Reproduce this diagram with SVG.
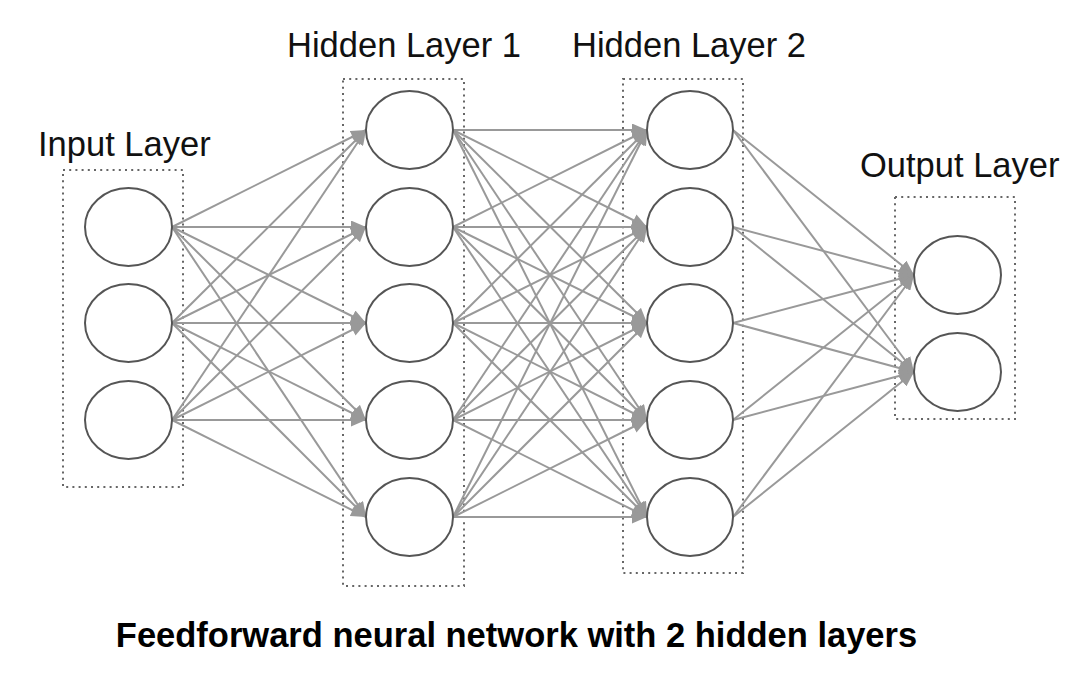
<svg xmlns="http://www.w3.org/2000/svg" width="1084" height="686" viewBox="0 0 1084 686">
<style>
.lbl{font-family:"Liberation Sans",Arial,sans-serif;font-size:34.5px;fill:#111}
.title{font-family:"Liberation Sans",Arial,sans-serif;font-size:34.5px;font-weight:bold;fill:#000}
.box{fill:none;stroke:#666;stroke-width:2;stroke-dasharray:2 4.2}
.n{fill:#fff;stroke:#555;stroke-width:2}
.c line{stroke:#999;stroke-width:2;marker-end:url(#ah)}
</style>
<defs>
<marker id="ah" markerUnits="userSpaceOnUse" markerWidth="15" markerHeight="13" refX="15" refY="6.5" orient="auto">
<path d="M0,0 L15,6.5 L0,13 z" fill="#999"/>
</marker>
</defs>
<rect width="1084" height="686" fill="#fff"/>
<g id="boxes">
<rect class="box" x="63" y="170" width="120" height="317"/>
<rect class="box" x="343" y="79" width="121" height="507"/>
<rect class="box" x="623" y="79" width="120" height="494"/>
<rect class="box" x="895" y="197" width="120" height="222"/>
</g>
<g id="labels">
<text class="lbl" x="38" y="156">Input Layer</text>
<text class="lbl" x="287" y="57">Hidden Layer 1</text>
<text class="lbl" x="572" y="57">Hidden Layer 2</text>
<text class="lbl" x="860" y="177">Output Layer</text>
<text class="title" x="516.5" y="646.5" text-anchor="middle">Feedforward neural network with 2 hidden layers</text>
</g>
<g class="c" id="connectors">
<line x1="172" y1="227" x2="366" y2="130"/><line x1="172" y1="227" x2="366" y2="227"/><line x1="172" y1="227" x2="366" y2="323"/><line x1="172" y1="227" x2="366" y2="420"/><line x1="172" y1="227" x2="366" y2="517"/>
<line x1="172" y1="323" x2="366" y2="130"/><line x1="172" y1="323" x2="366" y2="227"/><line x1="172" y1="323" x2="366" y2="323"/><line x1="172" y1="323" x2="366" y2="420"/><line x1="172" y1="323" x2="366" y2="517"/>
<line x1="172" y1="420" x2="366" y2="130"/><line x1="172" y1="420" x2="366" y2="227"/><line x1="172" y1="420" x2="366" y2="323"/><line x1="172" y1="420" x2="366" y2="420"/><line x1="172" y1="420" x2="366" y2="517"/>
<line x1="453" y1="130" x2="647" y2="130"/><line x1="453" y1="130" x2="647" y2="227"/><line x1="453" y1="130" x2="647" y2="323"/><line x1="453" y1="130" x2="647" y2="420"/><line x1="453" y1="130" x2="647" y2="517"/>
<line x1="453" y1="227" x2="647" y2="130"/><line x1="453" y1="227" x2="647" y2="227"/><line x1="453" y1="227" x2="647" y2="323"/><line x1="453" y1="227" x2="647" y2="420"/><line x1="453" y1="227" x2="647" y2="517"/>
<line x1="453" y1="323" x2="647" y2="130"/><line x1="453" y1="323" x2="647" y2="227"/><line x1="453" y1="323" x2="647" y2="323"/><line x1="453" y1="323" x2="647" y2="420"/><line x1="453" y1="323" x2="647" y2="517"/>
<line x1="453" y1="420" x2="647" y2="130"/><line x1="453" y1="420" x2="647" y2="227"/><line x1="453" y1="420" x2="647" y2="323"/><line x1="453" y1="420" x2="647" y2="420"/><line x1="453" y1="420" x2="647" y2="517"/>
<line x1="453" y1="517" x2="647" y2="130"/><line x1="453" y1="517" x2="647" y2="227"/><line x1="453" y1="517" x2="647" y2="323"/><line x1="453" y1="517" x2="647" y2="420"/><line x1="453" y1="517" x2="647" y2="517"/>
<line x1="733" y1="130" x2="914" y2="275"/><line x1="733" y1="130" x2="914" y2="372"/>
<line x1="733" y1="227" x2="914" y2="275"/><line x1="733" y1="227" x2="914" y2="372"/>
<line x1="733" y1="323" x2="914" y2="275"/><line x1="733" y1="323" x2="914" y2="372"/>
<line x1="733" y1="420" x2="914" y2="275"/><line x1="733" y1="420" x2="914" y2="372"/>
<line x1="733" y1="517" x2="914" y2="275"/><line x1="733" y1="517" x2="914" y2="372"/>
</g>
<g id="in1"><ellipse class="n" cx="128.5" cy="227" rx="43.5" ry="39"/></g>
<g id="in2"><ellipse class="n" cx="128.5" cy="323" rx="43.5" ry="39"/></g>
<g id="in3"><ellipse class="n" cx="128.5" cy="420" rx="43.5" ry="39"/></g>
<g id="h1a"><ellipse class="n" cx="409.5" cy="130" rx="43.5" ry="39"/></g>
<g id="h1b"><ellipse class="n" cx="409.5" cy="227" rx="43.5" ry="39"/></g>
<g id="h1c"><ellipse class="n" cx="409.5" cy="323" rx="43.5" ry="39"/></g>
<g id="h1d"><ellipse class="n" cx="409.5" cy="420" rx="43.5" ry="39"/></g>
<g id="h1e"><ellipse class="n" cx="409.5" cy="517" rx="43.5" ry="39"/></g>
<g id="h2a"><ellipse class="n" cx="690" cy="130" rx="43" ry="39"/></g>
<g id="h2b"><ellipse class="n" cx="690" cy="227" rx="43" ry="39"/></g>
<g id="h2c"><ellipse class="n" cx="690" cy="323" rx="43" ry="39"/></g>
<g id="h2d"><ellipse class="n" cx="690" cy="420" rx="43" ry="39"/></g>
<g id="h2e"><ellipse class="n" cx="690" cy="517" rx="43" ry="39"/></g>
<g id="out1"><ellipse class="n" cx="957.5" cy="275" rx="43.5" ry="39"/></g>
<g id="out2"><ellipse class="n" cx="957.5" cy="372" rx="43.5" ry="39"/></g>
</svg>
